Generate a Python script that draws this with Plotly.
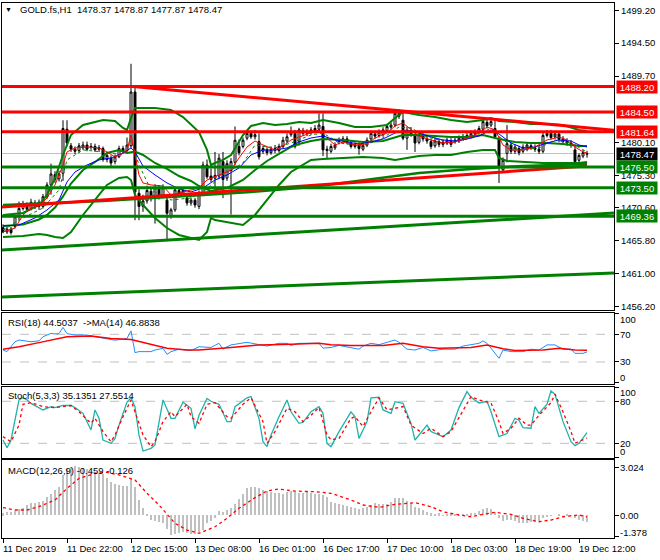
import plotly.graph_objects as go

# ---------------- data ----------------
bars = list(range(147))
opens = [1467.7, 1467.1, 1467.5, 1467.9, 1469.3, 1470.5, 1471.0, 1470.5, 1471.3, 1470.8,
         1470.8, 1472.2, 1473.9, 1475.4, 1474.8, 1475.6, 1482.0, 1479.6, 1479.1, 1478.9,
         1479.3, 1479.7, 1479.4, 1479.5, 1479.1, 1479.2, 1477.6, 1477.8, 1477.3, 1478.0,
         1479.2, 1478.9, 1479.6, 1487.4, 1472.7, 1470.8, 1471.6, 1473.0, 1472.3, 1473.4,
         1472.4, 1471.7, 1469.4, 1470.3, 1473.1, 1472.7, 1472.0, 1471.3, 1471.7, 1470.8,
         1472.7, 1476.8, 1475.2, 1474.9, 1475.2, 1477.3, 1474.9, 1476.0, 1477.2, 1479.5,
         1479.5, 1480.7, 1481.4, 1480.9, 1480.2, 1478.8, 1479.0, 1478.6, 1478.9, 1478.9,
         1479.5, 1480.3, 1481.2, 1481.4, 1480.2, 1481.8, 1481.4, 1481.5, 1481.8, 1482.0,
         1482.4, 1478.9, 1478.8, 1479.3, 1480.2, 1480.4, 1480.6, 1480.0, 1479.5, 1479.7,
         1479.1, 1479.7, 1480.6, 1481.3, 1481.1, 1481.2, 1481.8, 1482.3, 1482.6, 1484.3,
         1483.3, 1480.7, 1481.8, 1481.2, 1480.1, 1481.2, 1480.6, 1480.2, 1479.6, 1480.2,
         1479.8, 1480.0, 1480.3, 1480.2, 1480.3, 1480.6, 1480.9, 1481.0, 1481.3, 1481.6,
         1482.0, 1483.0, 1482.6, 1482.1, 1480.6, 1476.1, 1478.5, 1479.7, 1478.8, 1479.2,
         1478.8, 1479.1, 1479.6, 1479.3, 1479.1, 1478.8, 1481.1, 1481.4, 1480.9, 1481.3,
         1480.6, 1480.3, 1480.0, 1479.0, 1477.5, 1478.1, 1478.37]
highs = [1468.2, 1467.9, 1467.8, 1469.6, 1471.5, 1471.6, 1471.4, 1471.9, 1471.7, 1471.8,
         1472.6, 1474.3, 1477.0, 1475.9, 1476.0, 1483.3, 1483.3, 1480.0, 1479.5, 1480.0,
         1480.2, 1480.2, 1480.0, 1479.9, 1479.7, 1479.5, 1478.6, 1478.2, 1478.3, 1479.6,
         1479.6, 1480.8, 1491.5, 1488.2, 1473.3, 1472.5, 1473.8, 1473.6, 1474.0, 1473.9,
         1474.0, 1472.2, 1470.6, 1473.6, 1473.6, 1473.5, 1472.5, 1472.1, 1472.0, 1473.1,
         1477.3, 1477.6, 1476.3, 1478.7, 1478.4, 1478.7, 1477.5, 1477.8, 1482.4, 1480.5,
         1480.8, 1481.8, 1481.8, 1481.9, 1481.4, 1479.6, 1479.4, 1479.5, 1479.7, 1479.9,
         1480.9, 1481.4, 1482.4, 1481.9, 1482.2, 1482.2, 1482.0, 1482.3, 1482.6, 1484.3,
         1484.3, 1479.6, 1479.9, 1480.1, 1480.8, 1481.0, 1481.0, 1480.4, 1480.1, 1480.1,
         1480.0, 1480.8, 1481.8, 1481.8, 1482.0, 1482.3, 1482.8, 1483.0, 1484.9, 1484.9,
         1484.5, 1482.4, 1482.3, 1481.6, 1481.6, 1481.7, 1481.2, 1480.6, 1480.8, 1480.6,
         1480.5, 1480.8, 1480.7, 1480.8, 1481.1, 1481.3, 1481.5, 1481.8, 1482.0, 1482.5,
         1483.5, 1483.4, 1483.5, 1483.4, 1481.0, 1477.9, 1482.6, 1480.1, 1479.8, 1479.6,
         1479.8, 1480.1, 1480.0, 1479.8, 1479.6, 1481.5, 1481.9, 1481.9, 1481.8, 1481.7,
         1481.0, 1480.7, 1480.4, 1479.8, 1478.5, 1479.0, 1478.87]
lows = [1466.9, 1466.8, 1466.7, 1467.6, 1468.8, 1470.2, 1470.0, 1470.2, 1470.4, 1470.3,
        1470.5, 1471.9, 1472.5, 1474.2, 1474.4, 1474.5, 1479.5, 1478.7, 1478.4, 1478.6,
        1479.0, 1478.8, 1479.0, 1478.7, 1478.7, 1477.3, 1477.2, 1476.6, 1476.9, 1477.8,
        1478.4, 1478.6, 1479.3, 1468.8, 1468.8, 1470.0, 1471.2, 1471.5, 1468.3, 1471.8,
        1472.0, 1465.9, 1469.0, 1470.0, 1472.1, 1472.3, 1470.9, 1470.9, 1470.6, 1470.4,
        1472.4, 1474.8, 1474.3, 1473.2, 1474.8, 1472.0, 1474.5, 1469.6, 1476.8, 1478.2,
        1479.2, 1480.4, 1480.6, 1480.5, 1477.6, 1478.4, 1478.2, 1478.3, 1478.5, 1478.6,
        1479.2, 1480.0, 1480.9, 1479.2, 1479.6, 1481.0, 1481.0, 1481.2, 1481.4, 1481.7,
        1478.1, 1477.8, 1478.5, 1479.0, 1479.8, 1480.0, 1479.8, 1479.2, 1479.2, 1478.3,
        1478.8, 1479.4, 1480.3, 1480.6, 1480.8, 1480.9, 1481.5, 1481.9, 1482.3, 1483.5,
        1480.4, 1479.0, 1480.9, 1478.7, 1479.8, 1480.2, 1479.9, 1479.1, 1479.3, 1479.4,
        1479.4, 1479.7, 1479.4, 1479.9, 1480.0, 1480.3, 1480.6, 1480.7, 1481.0, 1481.3,
        1481.7, 1482.1, 1482.3, 1480.6, 1474.2, 1475.8, 1477.2, 1478.4, 1478.4, 1478.2,
        1478.5, 1478.8, 1479.0, 1478.7, 1478.4, 1478.5, 1480.8, 1480.5, 1480.6, 1480.1,
        1479.9, 1479.6, 1479.3, 1477.0, 1477.2, 1477.8, 1477.87]
closes = [1467.1, 1467.5, 1467.0, 1469.3, 1470.5, 1471.2, 1470.4, 1471.4, 1470.8, 1471.4,
          1472.2, 1473.9, 1475.5, 1474.7, 1475.5, 1482.1, 1480.0, 1479.1, 1478.8, 1479.6,
          1479.7, 1479.1, 1479.5, 1479.0, 1479.3, 1477.6, 1478.2, 1477.1, 1478.0, 1479.2,
          1478.8, 1479.7, 1487.4, 1472.9, 1470.8, 1471.6, 1473.1, 1472.2, 1473.5, 1472.3,
          1473.5, 1469.8, 1470.3, 1473.2, 1472.6, 1473.1, 1471.3, 1471.7, 1471.0, 1472.7,
          1476.8, 1475.1, 1474.7, 1475.3, 1477.8, 1474.7, 1477.0, 1477.3, 1480.4, 1478.6,
          1480.4, 1481.4, 1480.9, 1481.2, 1478.0, 1479.2, 1478.6, 1479.0, 1479.2, 1479.5,
          1480.4, 1480.9, 1481.6, 1479.5, 1481.9, 1481.4, 1481.6, 1481.9, 1482.1, 1482.6,
          1479.0, 1479.1, 1479.5, 1479.7, 1480.4, 1480.6, 1480.1, 1479.5, 1479.7, 1479.2,
          1479.6, 1480.4, 1481.4, 1481.0, 1481.6, 1481.9, 1482.4, 1482.6, 1484.3, 1483.9,
          1480.7, 1481.8, 1481.3, 1480.0, 1481.2, 1480.6, 1480.3, 1479.5, 1480.3, 1479.8,
          1480.1, 1480.4, 1479.8, 1480.4, 1480.7, 1480.9, 1481.1, 1481.4, 1481.6, 1482.1,
          1483.1, 1482.5, 1483.1, 1480.9, 1476.6, 1477.5, 1479.9, 1478.8, 1479.4, 1478.6,
          1479.4, 1479.7, 1479.3, 1479.1, 1478.8, 1481.1, 1481.4, 1480.8, 1481.3, 1480.5,
          1480.2, 1480.0, 1479.7, 1477.3, 1478.2, 1478.6, 1478.47]

date_tick_bars = [0, 16, 32, 48, 64, 80, 96, 112, 128, 144]
date_tick_labels = ["11 Dec 2019", "11 Dec 22:00", "12 Dec 15:00", "13 Dec 08:00",
                    "16 Dec 01:00", "16 Dec 17:00", "17 Dec 10:00", "18 Dec 03:00",
                    "18 Dec 19:00", "19 Dec 12:00"]

price_ticks = [1499.20, 1494.50, 1489.70, 1480.10, 1475.30, 1470.60, 1465.80, 1461.00, 1456.20]
resistance_levels = [1488.20, 1484.50, 1481.64]
support_levels = [1476.50, 1473.50, 1469.36]
last_price = 1478.47

# Bollinger bands (green)
bb_upper_bars = [0, 5, 9, 11, 13, 15, 17, 20, 25, 28, 30, 31, 32, 33, 38, 42, 45, 49, 51, 52,
                 53, 55, 57, 58, 60, 62, 65, 68, 71, 74, 77, 80, 84, 88, 92, 96, 98, 100, 104, 108,
                 112, 116, 120, 122, 124, 128, 132, 136, 140, 144, 146]
bb_upper = [1469.55, 1469.84, 1471.00, 1472.46, 1474.92, 1478.26, 1481.16, 1482.61, 1483.34, 1483.19,
            1482.18, 1481.89, 1483.63, 1485.08, 1485.08, 1484.79, 1483.77, 1481.60, 1478.99, 1476.81,
            1477.10, 1477.54, 1478.26, 1479.28, 1481.16, 1482.47, 1482.90, 1482.61, 1482.76, 1483.05,
            1482.90, 1483.34, 1482.90, 1482.32, 1482.32, 1482.61, 1483.63, 1484.50, 1484.06, 1483.77,
            1483.34, 1483.05, 1483.34, 1483.63, 1483.19, 1483.05, 1482.76, 1482.76, 1482.61, 1481.89,
            1481.74]
bb_lower_bars = [0, 5, 9, 11, 13, 15, 17, 20, 23, 26, 29, 31, 32, 33, 35, 38, 41, 44, 47, 49,
                 51, 52, 53, 56, 58, 60, 63, 66, 69, 72, 74, 77, 80, 85, 90, 95, 98, 101, 104, 108,
                 112, 116, 120, 123, 124, 126, 130, 135, 140, 144, 146]
bb_lower = [1466.36, 1466.50, 1466.79, 1466.65, 1466.36, 1466.21, 1467.08, 1469.55, 1471.73, 1473.91,
            1474.92, 1475.07, 1474.63, 1472.46, 1471.00, 1469.12, 1467.66, 1466.65, 1466.21, 1465.92,
            1467.08, 1469.12, 1468.82, 1468.53, 1468.24, 1468.10, 1469.55, 1471.73, 1473.91, 1475.79,
            1476.52, 1477.54, 1477.68, 1477.83, 1477.97, 1477.83, 1477.54, 1477.83, 1478.12, 1478.26,
            1478.26, 1478.70, 1478.99, 1478.99, 1477.83, 1477.39, 1477.25, 1477.10, 1477.10, 1477.10,
            1477.25]
bb_mid_bars = [0, 5, 9, 11, 13, 15, 17, 20, 23, 26, 29, 31, 33, 35, 38, 41, 44, 47, 49, 52,
               56, 60, 63, 66, 69, 72, 74, 77, 80, 85, 90, 95, 100, 104, 108, 112, 116, 120, 124, 128,
               132, 136, 140, 144, 146]
bb_mid = [1467.95, 1468.17, 1468.90, 1469.55, 1470.64, 1472.24, 1474.12, 1476.08, 1477.25, 1478.55,
          1478.99, 1478.55, 1478.77, 1478.26, 1477.10, 1476.23, 1475.21, 1474.49, 1473.76, 1473.04,
          1473.47, 1474.63, 1476.08, 1477.39, 1478.41, 1479.42, 1479.86, 1480.29, 1480.58, 1480.44,
          1480.15, 1480.29, 1481.16, 1481.16, 1481.02, 1480.87, 1480.87, 1481.16, 1480.58, 1480.15,
          1480.00, 1480.00, 1479.86, 1479.57, 1479.57]

# moving averages
red_ma_bars = [0, 3, 5, 7, 9, 11, 13, 15, 16, 18, 21, 24, 26, 28, 30, 31, 32, 33, 34, 35,
               37, 40, 42, 44, 47, 49, 51, 54, 57, 59, 61, 63, 65, 68, 70, 72, 74, 77, 79, 81,
               83, 85, 88, 91, 93, 96, 98, 100, 102, 104, 107, 110, 113, 116, 119, 121, 123, 125, 127, 130,
               133, 136, 139, 141, 143, 145, 146]
red_ma = [1467.08, 1467.66, 1469.55, 1470.57, 1470.86, 1472.02, 1473.91, 1476.81, 1478.70, 1479.28,
          1479.42, 1479.28, 1478.70, 1477.97, 1478.55, 1478.99, 1481.16, 1477.97, 1475.36, 1474.20,
          1473.91, 1473.76, 1472.46, 1472.75, 1473.18, 1473.47, 1474.63, 1475.36, 1476.08, 1477.83,
          1479.42, 1480.29, 1479.71, 1478.99, 1479.57, 1480.44, 1480.87, 1481.45, 1481.89, 1480.73,
          1479.71, 1480.15, 1479.71, 1479.86, 1480.73, 1481.45, 1482.47, 1482.90, 1481.89, 1481.02,
          1480.44, 1480.00, 1480.15, 1480.73, 1481.45, 1482.32, 1481.89, 1479.71, 1478.99, 1478.99,
          1479.42, 1480.44, 1480.87, 1480.44, 1479.42, 1478.70, 1478.55]
blue_ma_bars = [0, 4, 8, 11, 14, 16, 18, 21, 24, 27, 30, 32, 33, 35, 38, 41, 44, 47, 50, 53,
                56, 59, 62, 65, 68, 71, 74, 77, 80, 83, 86, 89, 92, 95, 98, 101, 104, 107, 110, 113,
                116, 119, 122, 124, 127, 130, 133, 136, 139, 142, 144, 146]
blue_ma = [1467.95, 1468.10, 1469.12, 1470.28, 1471.73, 1474.34, 1475.79, 1476.81, 1477.54, 1477.83,
           1478.55, 1479.28, 1478.70, 1476.66, 1475.36, 1474.20, 1473.33, 1472.89, 1473.47, 1474.63,
           1475.36, 1476.37, 1478.26, 1478.99, 1478.99, 1479.28, 1480.15, 1480.73, 1481.02, 1480.44,
           1480.15, 1479.86, 1480.15, 1480.58, 1481.45, 1481.89, 1481.45, 1480.87, 1480.44, 1480.29,
           1480.58, 1481.02, 1481.89, 1481.31, 1480.00, 1479.28, 1479.42, 1480.00, 1480.44, 1480.29,
           1479.71, 1479.42]
green_ma_bars = [0, 5, 10, 14, 16, 20, 25, 30, 32, 34, 37, 42, 47, 50, 55, 60, 63, 68, 72, 77,
                 80, 84, 90, 95, 99, 102, 106, 112, 118, 122, 125, 129, 134, 138, 142, 146]
green_ma = [1467.37, 1469.12, 1470.57, 1473.18, 1477.54, 1478.99, 1478.70, 1478.26, 1480.44, 1476.81,
            1473.18, 1471.73, 1472.02, 1472.89, 1475.36, 1477.10, 1479.71, 1479.28, 1480.00, 1481.16,
            1481.45, 1480.00, 1479.57, 1480.73, 1482.32, 1482.18, 1480.87, 1480.00, 1480.87, 1482.18,
            1480.44, 1478.99, 1479.28, 1480.44, 1480.00, 1478.70]
slow_ma_bars = [0, 25, 50, 62, 77, 90, 104, 117, 130, 146]
slow_ma = [1471.00, 1471.59, 1472.46, 1472.89, 1473.62, 1474.63, 1475.65, 1476.23, 1476.66, 1476.95]

# trend lines (bar position, price)
red_trend_upper_bars = [32.5, 152.75]
red_trend_upper = [1488.20, 1481.85]
red_trend_lower_bars = [-0.25, 146]
red_trend_lower = [1470.70, 1476.65]
green_trend_upper_bars = [-0.25, 152.75]
green_trend_upper = [1464.47, 1469.84]
green_trend_lower_bars = [-0.25, 152.75]
green_trend_lower = [1457.66, 1461.14]

# RSI(18) and its MA(14)
rsi_bars = [0, 1, 3, 4, 7, 9, 10, 12, 13, 14, 15, 16, 18, 21, 23, 25, 27, 28, 30, 31,
            32, 33, 34, 37, 38, 40, 41, 42, 44, 46, 47, 49, 51, 52, 54, 55, 56, 57, 61, 64,
            66, 69, 71, 72, 74, 77, 79, 80, 82, 84, 87, 89, 90, 92, 94, 96, 98, 99, 101, 103,
            105, 107, 110, 113, 115, 117, 119, 120, 121, 122, 124, 125, 127, 130, 132, 134, 136, 138, 140, 142,
            143, 145, 146]
rsi = [47.3, 45, 59.3, 61.8, 59.3, 60.5, 66.5, 71.4, 70.5, 71,
       80, 71, 69, 69, 66.5, 64, 62.5, 61.5, 62.5, 64,
       75, 43.5, 45, 45, 47.3, 49.8, 41, 45, 48.5, 46.5,
       46.5, 52, 52, 51, 57, 48.5, 52, 54.7, 58.4, 54.7,
       53, 57, 57, 54, 57, 57, 57, 50, 51, 54,
       51, 48.5, 53, 57, 55, 58.4, 61.8, 58.4, 48.5, 47.3,
       51, 46, 48.5, 48.5, 53, 55, 57, 60.5, 57, 50,
       35.3, 47.3, 45, 45, 48.5, 47.3, 54.7, 54.7, 48.5, 48.5,
       42.5, 42.5, 44.5037]
rsi_ma_bars = [0, 4, 9, 14, 16, 22, 27, 32, 35, 41, 46, 49, 57, 64, 72, 79, 82, 87, 95, 100,
               105, 109, 117, 121, 125, 128, 135, 139, 143, 146]
rsi_ma = [48.5, 52, 58, 64, 66.5, 67.5, 64, 62.5, 58, 50, 47.3, 47.3, 51, 54.7, 55.7, 57, 55, 54, 54, 57,
          52, 50, 51, 54.7, 49, 46.5, 47.3, 50, 47.3, 46.8838]
rsi_levels = [70, 30]
rsi_label_vals = [92.1, 70, 30, 7.3]
rsi_label_text = ["100", "70", "30", "0"]

# Stochastic(5,3,3)
stoch_bars = [0, 1, 2, 3, 4, 5, 6, 7, 10, 12, 13, 15, 17, 18, 20, 21, 22, 23, 24, 25,
              27, 28, 29, 31, 32, 33, 34, 35, 37, 38, 39, 40, 42, 43, 45, 47, 48, 49, 51, 52,
              54, 56, 57, 58, 61, 62, 64, 65, 66, 67, 69, 71, 72, 74, 75, 77, 79, 80, 81, 82,
              84, 87, 88, 89, 91, 92, 94, 95, 97, 98, 100, 102, 103, 106, 107, 110, 112, 114, 116, 117,
              119, 121, 122, 124, 126, 128, 129, 130, 132, 133, 134, 136, 137, 138, 140, 142, 143, 144, 146]
stoch_main = [24.7, 13.7, 24.7, 50.9, 81.9, 85, 82, 77, 67.6, 72.4,
              71, 74, 74, 71, 62.8, 50.9, 39, 67.6, 55.7, 24.7,
              20, 27, 46, 79, 85, 72.4, 31.9, 9, 12.8, 17.6,
              50.9, 81.9, 55.7, 55.7, 78.5, 70, 40.5, 60, 84, 80,
              75.7, 50.9, 50.9, 72.4, 85, 86.7, 55.7, 22.3, 15.2, 31.9,
              58, 81.9, 65, 48.5, 50, 65, 72.4, 62.8, 20, 15.2,
              36.7, 65, 58, 27, 50.9, 84.8, 85.7, 67.6, 62.8, 79.4,
              77, 48.5, 24.7, 46, 36.7, 29.5, 39, 71, 93.8, 85.7,
              77.6, 80, 65, 29.5, 34, 55.7, 53, 42.5, 41.5, 72.4,
              62.8, 75.7, 94.8, 90, 50.9, 22.3, 16.6, 20, 35.1351]
stoch_sig_bars = [0, 2, 4, 5, 7, 10, 13, 17, 19, 22, 23, 25, 27, 28, 30, 32, 33, 35, 37, 38,
                  40, 42, 43, 46, 47, 49, 51, 53, 56, 57, 60, 62, 65, 66, 68, 71, 73, 75, 77, 79,
                  81, 82, 84, 87, 88, 90, 92, 94, 96, 98, 100, 102, 105, 107, 110, 112, 115, 117, 119, 122,
                  124, 125, 127, 129, 131, 132, 134, 137, 138, 140, 142, 143, 146]
stoch_sig = [29.5, 22.3, 46, 75.7, 78, 72.4, 71, 74, 65, 48.5,
             55.7, 36.7, 22.3, 31.9, 58, 81.9, 65, 31.9, 15.2, 22.3,
             50.9, 65, 58, 75.7, 58, 48.5, 75.7, 78, 58, 55.7,
             75.7, 85, 50.9, 20, 36.7, 70, 65, 50.9, 60, 71,
             31.9, 25, 27, 55.7, 58, 44, 65, 84.8, 67.6, 70,
             72.4, 46, 34, 41.5, 29.5, 36.7, 67.6, 86.7, 82, 77.6,
             50.9, 34, 41.5, 55.7, 46, 46, 60, 78, 90, 65,
             36.7, 20, 27.5514]
stoch_levels = [80, 20]
stoch_label_vals = [92.9, 80, 20, 8]
stoch_label_text = ["100", "80", "20", "0"]

# MACD(12,26,9)
macd_hist = [0.1, 0.17, 0.2, 0.25, 0.38, 0.47, 0.64, 0.75, 0.79, 0.85,
             0.92, 1.17, 1.32, 1.6, 1.81, 2.56, 2.94, 3.09, 3.15, 3.09,
             2.98, 2.94, 2.83, 2.73, 2.66, 2.6, 2.39, 2.13, 1.98, 1.92,
             1.85, 1.85, 2.34, 1.77, 0.96, 0.43, 0.04, -0.32, -0.38, -0.43,
             -0.53, -0.9, -1.28, -1.24, -1.17, -1.11, -1.17, -1.24, -1.24, -1.11,
             -0.96, -0.53, -0.36, -0.17, 0.26, 0.17, 0.32, 0.43, 0.68, 1.0,
             1.34, 1.7, 1.77, 1.81, 1.7, 1.6, 1.56, 1.45, 1.39, 1.39,
             1.34, 1.45, 1.56, 1.49, 1.41, 1.41, 1.45, 1.39, 1.34, 1.34,
             1.28, 1.17, 0.85, 0.75, 0.68, 0.64, 0.6, 0.49, 0.43, 0.38,
             0.43, 0.53, 0.64, 0.75, 0.68, 0.68, 0.68, 0.85, 1.07, 1.11,
             1.07, 0.9, 0.75, 0.53, 0.43, 0.32, 0.21, 0.11, 0.04, 0.11,
             -0.04, 0.04, 0.11, 0.04, -0.04, 0.04, 0.04, 0.11, 0.15, 0.26,
             0.38, 0.43, 0.38, 0.21, -0.21, -0.38, -0.32, -0.32, -0.38, -0.53,
             -0.53, -0.53, -0.47, -0.43, -0.38, -0.21, -0.11, -0.04, 0.0, 0.04,
             0.0, 0.04, -0.04, -0.17, -0.32, -0.38, -0.459]
macd_sig_bars = [0, 3, 6, 9, 13, 16, 19, 23, 26, 29, 33, 36, 39, 43, 46, 49, 53, 56, 59, 63,
                 66, 69, 73, 78, 82, 87, 90, 94, 98, 103, 107, 110, 114, 117, 120, 123, 127, 130, 134, 137,
                 140, 144, 146]
macd_sig = [0.47, 0.32, 0.32, 0.53, 0.96, 1.7, 2.34, 2.66, 2.73, 2.56,
            2.24, 1.39, 0.64, -0.53, -0.96, -1.17, -0.75, -0.21, 0.43, 1.11,
            1.53, 1.66, 1.53, 1.49, 1.39, 0.96, 0.64, 0.49, 0.68, 0.79,
            0.53, 0.21, 0.0, -0.11, 0.04, 0.17, 0.04, -0.21, -0.43, -0.32,
            -0.11, 0.0, -0.126]
macd_ticks = [3.024, 0.0, -1.378]
macd_label_vals = [3.024, 0.0, -1.13]
macd_label_text = ["3.024", "0.00", "-1.378"]

# ---------------- styling ----------------
RED = "#FF0000"
GREEN = "#008000"
BLUE = "#0000FF"
SILVER = "#C0C0C0"
FONT = "Liberation Sans, Arial, sans-serif"
FS = 9.5

# panel pixel geometry: plot area spans y=3..538 (535 px)
def py(p):
    return (538 - p) / 535.0

def px(p):
    return (p - 2) / 612.0

fig = go.Figure()

fig.add_trace(go.Candlestick(
    x=bars, open=opens, high=highs, low=lows, close=closes,
    increasing=dict(line=dict(color="black", width=1), fillcolor="white"),
    decreasing=dict(line=dict(color="black", width=1), fillcolor="black"),
    whiskerwidth=0, showlegend=False, hoverinfo="skip", xaxis="x", yaxis="y"))

def line(xs, ys, color, width, dash="solid", xa="x", ya="y"):
    fig.add_trace(go.Scatter(x=xs, y=ys, mode="lines",
                             line=dict(color=color, width=width, dash=dash),
                             hoverinfo="skip", showlegend=False, xaxis=xa, yaxis=ya))

line(slow_ma_bars, slow_ma, GREEN, 2.5)
line(bb_upper_bars, bb_upper, GREEN, 2)
line(bb_mid_bars, bb_mid, GREEN, 2)
line(bb_lower_bars, bb_lower, GREEN, 2)
line(green_ma_bars, green_ma, GREEN, 1, "dot")
line(blue_ma_bars, blue_ma, BLUE, 1)
line(red_ma_bars, red_ma, RED, 1)
line(red_trend_upper_bars, red_trend_upper, RED, 3)
line(red_trend_lower_bars, red_trend_lower, RED, 3)
line(green_trend_upper_bars, green_trend_upper, GREEN, 3)
line(green_trend_lower_bars, green_trend_lower, GREEN, 3)

# RSI
line(rsi_bars, rsi, "#1E90FF", 1, xa="x2", ya="y2")
line(rsi_ma_bars, rsi_ma, RED, 1.5, xa="x2", ya="y2")
# Stochastic
line(stoch_bars, stoch_main, "#20B2AA", 1.3, xa="x3", ya="y3")
line(stoch_sig_bars, stoch_sig, RED, 1.3, "dot", xa="x3", ya="y3")
# MACD
fig.add_trace(go.Bar(x=bars, y=macd_hist, width=0.28, marker=dict(color=SILVER, line=dict(width=0)),
                     hoverinfo="skip", showlegend=False, xaxis="x4", yaxis="y4"))
line(macd_sig_bars, macd_sig, RED, 1.3, "dot", xa="x4", ya="y4")

shapes = []
shapes.append(dict(type="line", xref="paper", x0=0, x1=1, yref="y", y0=last_price, y1=last_price,
                   line=dict(color=SILVER, width=1), layer="below"))
for lv in resistance_levels:
    shapes.append(dict(type="line", xref="paper", x0=0, x1=1, yref="y", y0=lv, y1=lv,
                       line=dict(color=RED, width=3), layer="above"))
for lv in support_levels:
    shapes.append(dict(type="line", xref="paper", x0=0, x1=1, yref="y", y0=lv, y1=lv,
                       line=dict(color=GREEN, width=3), layer="above"))
for lv in rsi_levels:
    shapes.append(dict(type="line", xref="paper", x0=0, x1=1, yref="y2", y0=lv, y1=lv,
                       line=dict(color=SILVER, width=1, dash="dash"), layer="below"))
for lv in stoch_levels:
    shapes.append(dict(type="line", xref="paper", x0=0, x1=1, yref="y3", y0=lv, y1=lv,
                       line=dict(color=SILVER, width=1, dash="dash"), layer="below"))

ann = []
ann.append(dict(text="\u25bc", x=px(8), y=py(9), xref="paper", yref="paper", showarrow=False,
                xanchor="center", yanchor="middle", font=dict(size=7, color="black", family=FONT)))
ann.append(dict(text="GOLD.fs,H1\u00a0\u00a01478.37 1478.87 1477.87 1478.47", x=px(18), y=py(9),
                xref="paper", yref="paper", showarrow=False, xanchor="left", yanchor="middle",
                font=dict(size=FS, color="black", family=FONT)))
ann.append(dict(text="RSI(18) 44.5037\u00a0\u00a0->MA(14) 46.8838", x=px(6), y=py(322),
                xref="paper", yref="paper", showarrow=False, xanchor="left", yanchor="middle",
                font=dict(size=FS, color="black", family=FONT)))
ann.append(dict(text="Stoch(5,3,3) 35.1351 27.5514", x=px(6), y=py(396),
                xref="paper", yref="paper", showarrow=False, xanchor="left", yanchor="middle",
                font=dict(size=FS, color="black", family=FONT)))
ann.append(dict(text="MACD(12,26,9) -0.459 -0.126", x=px(6), y=py(470),
                xref="paper", yref="paper", showarrow=False, xanchor="left", yanchor="middle",
                font=dict(size=FS, color="black", family=FONT)))

def box(val, color):
    ann.append(dict(text=f"{val:.2f}", x=1, xref="paper", xanchor="left", xshift=2,
                    y=val, yref="y", yanchor="middle", showarrow=False,
                    bgcolor=color, width=38, height=10, borderpad=1, align="center",
                    font=dict(size=FS, color="white", family=FONT)))

for lv in resistance_levels:
    box(lv, RED)
box(last_price, "#000000")
for lv in support_levels:
    box(lv, GREEN)

for vals, texts, ya in [(rsi_label_vals, rsi_label_text, "y2"),
                        (stoch_label_vals, stoch_label_text, "y3"),
                        (macd_label_vals, macd_label_text, "y4")]:
    for v, t in zip(vals, texts):
        ann.append(dict(text=t, x=1, xref="paper", xanchor="left", xshift=4, y=v, yref=ya,
                        yanchor="middle", showarrow=False,
                        font=dict(size=FS, color="black", family=FONT)))

for b, t in zip(date_tick_bars, date_tick_labels):
    ann.append(dict(text=t, x=b, xref="x4", xanchor="left", xshift=-2, y=py(548), yref="paper",
                    yanchor="middle", showarrow=False, font=dict(size=FS, color="black", family=FONT)))

xbase = dict(range=[-0.25, 152.75], showline=True, mirror=True, linecolor="black", linewidth=1,
             showgrid=False, zeroline=False, showticklabels=False, ticks="", fixedrange=True)
ybase = dict(side="right", showline=True, mirror=True, linecolor="black", linewidth=1,
             showgrid=False, zeroline=False, ticks="outside", ticklen=4, tickcolor="black",
             tickfont=dict(size=FS, color="black", family=FONT), fixedrange=True)

fig.update_layout(
    width=660, height=560, margin=dict(l=2, r=46, t=3, b=22, autoexpand=False),
    paper_bgcolor="white", plot_bgcolor="white", showlegend=False,
    font=dict(family=FONT, size=FS, color="black"),
    bargap=0,
    xaxis=dict(xbase, domain=[0, 1], anchor="y", rangeslider=dict(visible=False)),
    xaxis2=dict(xbase, domain=[0, 1], anchor="y2", matches="x"),
    xaxis3=dict(xbase, domain=[0, 1], anchor="y3", matches="x"),
    xaxis4=dict(xbase, domain=[0, 1], anchor="y4", matches="x", ticks="outside", ticklen=4,
                tickcolor="black", tickvals=date_tick_bars),
    yaxis=dict(ybase, domain=[py(310), 1], anchor="x", range=[1455.76, 1500.32],
               tickvals=price_ticks, ticktext=[f"{v:.2f}" for v in price_ticks]),
    yaxis2=dict(ybase, domain=[py(384), py(313)], anchor="x2", range=[-1.8, 100.8],
                tickvals=[100, 70, 30, 0], showticklabels=False),
    yaxis3=dict(ybase, domain=[py(458), py(387)], anchor="x3", range=[-1.0, 100.4],
                tickvals=[100, 80, 20, 0], showticklabels=False),
    yaxis4=dict(ybase, domain=[0, py(460)], anchor="x4", range=[-1.47, 3.517],
                tickvals=macd_ticks, showticklabels=False),
    shapes=shapes, annotations=ann,
)

fig.write_html("out.html", config={"displayModeBar": False},
               post_script="document.body.style.margin='0';document.body.style.padding='0';"
                           "document.documentElement.style.overflow='hidden';")
